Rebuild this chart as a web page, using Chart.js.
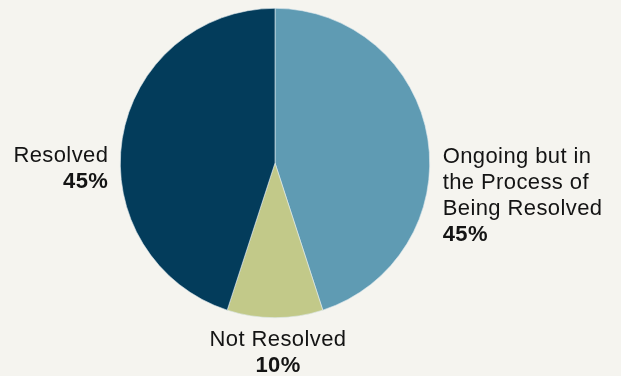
<!DOCTYPE html>
<html>
<head>
<meta charset="utf-8">
<style>
  html, body { margin: 0; padding: 0; background: #f5f4ef; }
  #wrap { width: 621px; height: 376px; position: relative; }
</style>
<script src="https://cdn.jsdelivr.net/npm/chart.js@4/dist/chart.umd.min.js"></script>
</head>
<body>
<div id="wrap"><canvas id="c" width="621" height="376"></canvas></div>
<script>
// Status of issues, share of total (%)
const categories = ["Ongoing but in the Process of Being Resolved", "Not Resolved", "Resolved"];
const labelLines = [["Ongoing but in", "the Process of", "Being Resolved"], ["Not Resolved"], ["Resolved"]];
const values = [45, 10, 45];
const colors = ["#5f9bb3", "#c2c989", "#033c5b"];

const FONT = '"Liberation Sans", Arial, sans-serif';

// Draws each slice's name and percentage around the pie
const sliceLabels = {
  id: 'sliceLabels',
  afterDraw(chart) {
    const ctx = chart.ctx;
    const arc0 = chart.getDatasetMeta(0).data[0];
    const cx = arc0.x, cy = arc0.y, r = arc0.outerRadius;
    const lh = 26;
    ctx.save();
    ctx.fillStyle = '#141414';
    ctx.textBaseline = 'alphabetic';
    if ('letterSpacing' in ctx) ctx.letterSpacing = '0.4px';

    const drawBlock = (i, x, y0, align) => {
      ctx.textAlign = align;
      ctx.font = '22px ' + FONT;
      labelLines[i].forEach((ln, k) => ctx.fillText(ln, x, y0 + k * lh));
      ctx.font = 'bold 22px ' + FONT;
      ctx.fillText(values[i] + '%', x, y0 + labelLines[i].length * lh);
    };

    drawBlock(0, cx + r + 13, cy, 'left');
    drawBlock(1, cx + 3, cy + r + 28, 'center');
    drawBlock(2, cx - r - 12, cy - 1, 'right');
    ctx.restore();
  }
};

new Chart(document.getElementById('c'), {
  type: 'pie',
  data: {
    labels: categories,
    datasets: [{
      data: values,
      backgroundColor: colors,
      borderColor: '#dfeaee',
      borderWidth: 0.6
    }]
  },
  options: {
    responsive: false,
    animation: false,
    layout: { padding: { left: 120, right: 191, top: 8, bottom: 58 } },
    plugins: {
      legend: { display: false },
      tooltip: { enabled: false }
    }
  },
  plugins: [sliceLabels]
});
</script>
</body>
</html>
